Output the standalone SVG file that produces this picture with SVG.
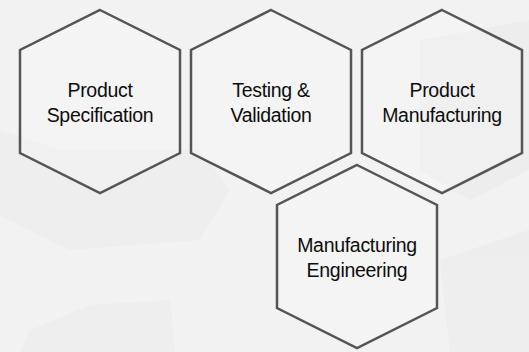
<svg xmlns="http://www.w3.org/2000/svg" width="529" height="352" viewBox="0 0 529 352">
  <style>
    .hex { fill: #ffffff; fill-opacity: 0.2; stroke: #555555; stroke-width: 2.5; stroke-linejoin: miter; }
    .lbl { font-family: "Liberation Sans", Arial, sans-serif; font-size: 19.5px; letter-spacing: -0.3px; fill: #0d0d0d; text-anchor: middle; }
    .bg { fill: #ebebeb; }
  </style>
  <defs>
    <polygon id="hexShape" points="0,-91.5 80,-51.5 80,51.5 0,91.5 -80,51.5 -80,-51.5"/>
  </defs>
  <rect x="0" y="0" width="529" height="352" fill="#f2f2f2"/>
  <g id="background" opacity="0.6">
    <polygon class="bg" points="0,130 60,150 200,150 230,190 200,240 70,250 0,215"/>
    <polygon class="bg" points="420,40 529,20 529,170 470,200 420,170"/>
    <polygon class="bg" points="30,330 90,305 170,300 175,352 20,352"/>
    <polygon class="bg" points="440,260 529,230 529,352 450,352"/>
  </g>
  <g id="connectors"></g>
  <g id="node-product-specification">
    <use href="#hexShape" class="hex" transform="translate(100,101.5)"/>
    <text class="lbl" x="100" y="97">Product</text>
    <text class="lbl" x="100" y="121.5">Specification</text>
  </g>
  <g id="node-testing-validation">
    <use href="#hexShape" class="hex" transform="translate(271,101.5)"/>
    <text class="lbl" x="271" y="97">Testing &amp;</text>
    <text class="lbl" x="271" y="121.5">Validation</text>
  </g>
  <g id="node-product-manufacturing">
    <use href="#hexShape" class="hex" transform="translate(442,101.5)"/>
    <text class="lbl" x="442" y="97">Product</text>
    <text class="lbl" x="442" y="121.5">Manufacturing</text>
  </g>
  <g id="node-manufacturing-engineering">
    <use href="#hexShape" class="hex" transform="translate(357,256.5)"/>
    <text class="lbl" x="357" y="252">Manufacturing</text>
    <text class="lbl" x="357" y="276.5">Engineering</text>
  </g>
</svg>
